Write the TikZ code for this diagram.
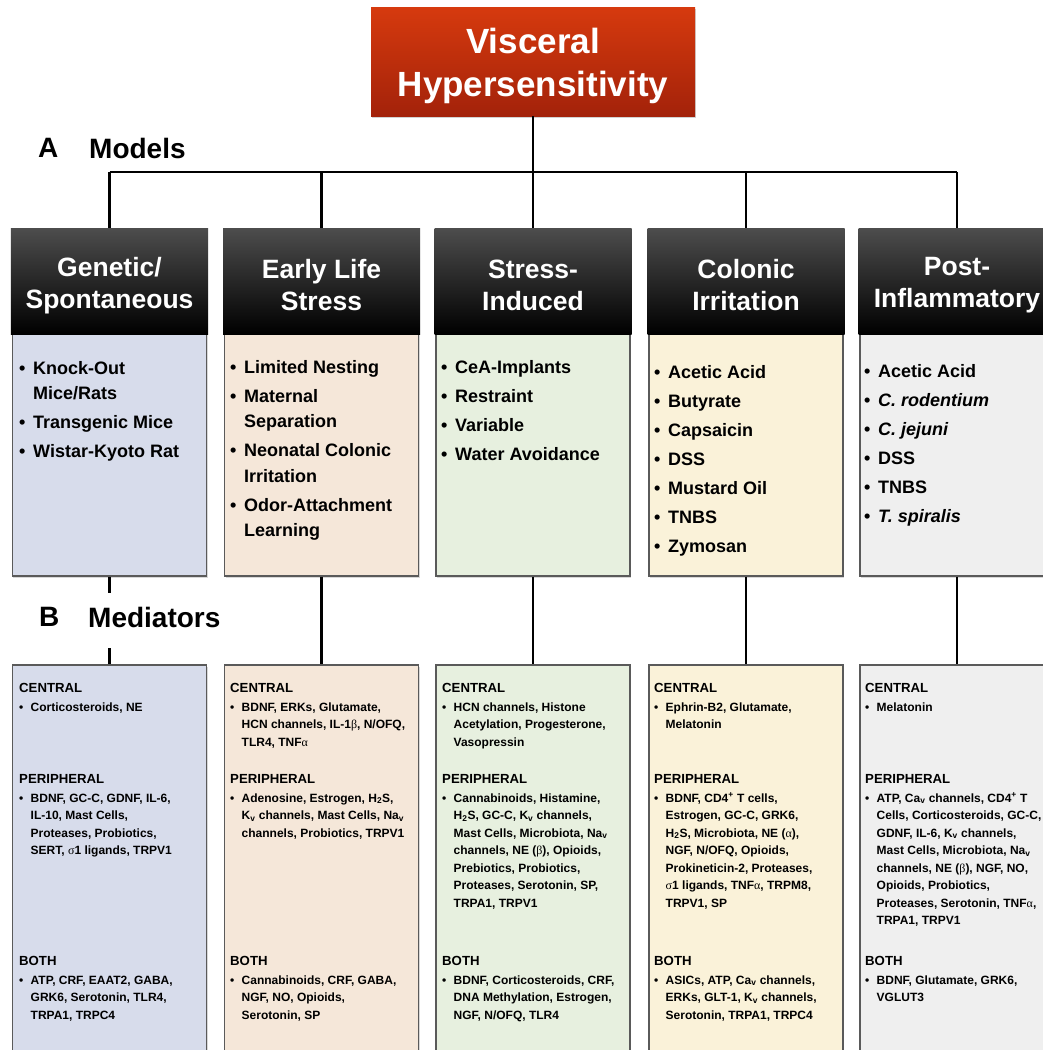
\documentclass[tikz,border=0pt]{standalone}
\usepackage{fontspec}
\setmainfont{Liberation Sans}
\newfontfamily\gk{Liberation Serif}
\usetikzlibrary{shadows}
\definecolor{cA}{HTML}{D7DCEB}
\definecolor{cB}{HTML}{F5E7D9}
\definecolor{cC}{HTML}{E7F0DF}
\definecolor{cD}{HTML}{FAF2D9}
\definecolor{cE}{HTML}{EFEFEF}
\definecolor{bord}{HTML}{5A5A5A}
\definecolor{hdtop}{HTML}{4D4D4D}
\definecolor{rtop}{HTML}{D63A0E}
\definecolor{rbot}{HTML}{A3220A}
\newcommand\bl[2]{\hangindent=#1\hangafter=1\noindent\makebox[#1][l]{•}#2\par}
\newcommand\pb[1]{\parbox[t]{190bp}{\setlength\parskip{3.5bp}#1}}
\newcommand\G[1]{{\gk\mdseries #1}}
\newcommand\sub[1]{\textsubscript{#1}}
\newcommand\sups[1]{\textsuperscript{#1}}
\begin{document}
\begin{tikzpicture}[x=1bp,y=-1bp,
  conn/.style={line width=2.4bp,black},
  ttl/.style={minimum width=324bp,minimum height=109bp,top color=rtop,bottom color=rbot,
     drop shadow={shadow xshift=1bp,shadow yshift=-2bp,opacity=.35}},
  ttltxt/.style={text=white,align=center,inner sep=0pt,font=\bfseries\fontsize{35bp}{43bp}\selectfont},
  hdr/.style={minimum width=197bp,minimum height=106bp,top color=hdtop,bottom color=black},
  hdrtxt/.style={text=white,align=center,inner sep=0pt,font=\bfseries\fontsize{26.5bp}{32bp}\selectfont},
  mbox/.style={draw=bord,line width=1.3bp,minimum width=194bp,
     drop shadow={shadow xshift=1bp,shadow yshift=-1.5bp,opacity=.3}},
  modlist/.style={anchor=base west,inner sep=0pt,font=\bfseries\fontsize{18bp}{25.5bp}\selectfont},
  medlist/.style={anchor=base west,inner sep=0pt,font=\bfseries\fontsize{12bp}{17.5bp}\selectfont},
  sec/.style={anchor=base west,inner sep=0pt,font=\bfseries\fontsize{13.2bp}{16bp}\selectfont},
  lab/.style={anchor=west,inner sep=0pt,font=\bfseries\fontsize{28bp}{32bp}\selectfont}
]
\useasboundingbox (0,0) rectangle (1043,1050);
\clip (0,0) rectangle (1043,1050);
\fill[white] (0,0) rectangle (1043,1050);

% title
\node[ttl] (title) at (533,61.5) {};
\node[ttltxt] (titletxt) at ([yshift=-4bp]title.center) {Visceral\\Hypersensitivity};

% labels
\node[lab] (labA) at (38,148) {A};
\node[lab] (labModels) at (89,148) {Models};
\node[lab] (labB) at (39,617) {B};
\node[lab,minimum height=55bp] (labMed) at (88,617) {Mediators};

% model boxes
\node[mbox,fill=cA,minimum height=243bp] (m1) at (109.5,454.5) {};
\node[mbox,fill=cB,minimum height=243bp] (m2) at (321.5,454.5) {};
\node[mbox,fill=cC,minimum height=243bp] (m3) at (533,454.5) {};
\node[mbox,fill=cD,minimum height=243bp] (m4) at (746,454.5) {};
\node[mbox,fill=cE,minimum height=243bp] (m5) at (957,454.5) {};

% mediator boxes
\node[mbox,fill=cA,minimum height=420bp] (d1) at (109.5,875) {};
\node[mbox,fill=cB,minimum height=420bp] (d2) at (321.5,875) {};
\node[mbox,fill=cC,minimum height=420bp] (d3) at (533,875) {};
\node[mbox,fill=cD,minimum height=420bp] (d4) at (746,875) {};
\node[mbox,fill=cE,minimum height=420bp] (d5) at (957,875) {};

% header boxes
\node[hdr] (h1) at (109.5,281) {};
\node[hdr] (h2) at (321.5,281) {};
\node[hdr] (h3) at (533,281) {};
\node[hdr] (h4) at (746,281) {};
\node[hdr] (h5) at (957,281) {};
\node[hdrtxt] (h1t) at ([yshift=-4.5bp]h1.center) {Genetic/\\Spontaneous};
\node[hdrtxt] (h2t) at ([yshift=-4.5bp]h2.center) {Early Life\\Stress};
\node[hdrtxt] (h3t) at ([yshift=-4.5bp]h3.center) {Stress-\\Induced};
\node[hdrtxt] (h4t) at ([yshift=-4.5bp]h4.center) {Colonic\\Irritation};
\node[hdrtxt] (h5t) at ([yshift=-4.5bp]h5.center) {Post-\\Inflammatory};

% connectors
\coordinate (bus) at (0,172);
\draw[conn] (title.south) -- (title.south |- bus);
\draw[conn] (h1.north |- bus) -- (h5.north |- bus);
\foreach \i in {1,...,5} \draw[conn] (h\i.north) -- (h\i.north |- bus);
\draw[conn] (m1.south) -- ([yshift=-3.5bp]m1.south |- labMed.north);
\draw[conn] ([yshift=-3.5bp]m1.south |- labMed.south) -- (d1.north);
\foreach \i in {2,...,5} \draw[conn] (m\i.south) -- (d\i.north);

% model lists
\node[modlist] (l1) at (19,374) {\pb{\bl{14bp}{Knock-Out\\Mice/Rats}\bl{14bp}{Transgenic Mice}\bl{14bp}{Wistar-Kyoto Rat}}};
\node[modlist] (l2) at (230,373) {\pb{\bl{14bp}{Limited Nesting}\bl{14bp}{Maternal\\Separation}\bl{14bp}{Neonatal Colonic\\Irritation}\bl{14bp}{Odor-Attachment\\Learning}}};
\node[modlist] (l3) at (441,373) {\pb{\bl{14bp}{CeA-Implants}\bl{14bp}{Restraint}\bl{14bp}{Variable}\bl{14bp}{Water Avoidance}}};
\node[modlist] (l4) at (654,378) {\pb{\bl{14bp}{Acetic Acid}\bl{14bp}{Butyrate}\bl{14bp}{Capsaicin}\bl{14bp}{DSS}\bl{14bp}{Mustard Oil}\bl{14bp}{TNBS}\bl{14bp}{Zymosan}}};
\node[modlist] (l5) at (864,377) {\pb{\bl{14bp}{Acetic Acid}\bl{14bp}{\textit{C. rodentium}}\bl{14bp}{\textit{C. jejuni}}\bl{14bp}{DSS}\bl{14bp}{TNBS}\bl{14bp}{\textit{T. spiralis}}}};

% mediator sections
\foreach \n/\x in {1/19,2/230,3/442,4/654,5/865} {
  \node[sec] (c\n) at (\x,692) {CENTRAL};
  \node[sec] (p\n) at (\x,783) {PERIPHERAL};
  \node[sec] (b\n) at (\x,965) {BOTH};
}
% column 1
\node[medlist] (cl1) at (19,711) {\pb{\bl{11.5bp}{Corticosteroids, NE}}};
\node[medlist] (pl1) at (19,802) {\pb{\bl{11.5bp}{BDNF, GC-C, GDNF, IL-6,\\IL-10, Mast Cells,\\Proteases, Probiotics,\\SERT, \G{σ}1 ligands, TRPV1}}};
\node[medlist] (bl1) at (19,984) {\pb{\bl{11.5bp}{ATP, CRF, EAAT2, GABA,\\GRK6, Serotonin, TLR4,\\TRPA1, TRPC4}}};
% column 2
\node[medlist] (cl2) at (230,711) {\pb{\bl{11.5bp}{BDNF, ERKs, Glutamate,\\HCN channels, IL-1\G{β}, N/OFQ,\\TLR4, TNF\G{α}}}};
\node[medlist] (pl2) at (230,802) {\pb{\bl{11.5bp}{Adenosine, Estrogen, H\sub{2}S,\\K\sub{v} channels, Mast Cells, Na\sub{v}\\channels, Probiotics, TRPV1}}};
\node[medlist] (bl2) at (230,984) {\pb{\bl{11.5bp}{Cannabinoids, CRF, GABA,\\NGF, NO, Opioids,\\Serotonin, SP}}};
% column 3
\node[medlist] (cl3) at (442,711) {\pb{\bl{11.5bp}{HCN channels, Histone\\Acetylation, Progesterone,\\Vasopressin}}};
\node[medlist] (pl3) at (442,802) {\pb{\bl{11.5bp}{Cannabinoids, Histamine,\\H\sub{2}S, GC-C, K\sub{v} channels,\\Mast Cells, Microbiota, Na\sub{v}\\channels, NE (\G{β}), Opioids,\\Prebiotics, Probiotics,\\Proteases, Serotonin, SP,\\TRPA1, TRPV1}}};
\node[medlist] (bl3) at (442,984) {\pb{\bl{11.5bp}{BDNF, Corticosteroids, CRF,\\DNA Methylation, Estrogen,\\NGF, N/OFQ, TLR4}}};
% column 4
\node[medlist] (cl4) at (654,711) {\pb{\bl{11.5bp}{Ephrin-B2, Glutamate,\\Melatonin}}};
\node[medlist] (pl4) at (654,802) {\pb{\bl{11.5bp}{BDNF, CD4\sups{+} T cells,\\Estrogen, GC-C, GRK6,\\H\sub{2}S, Microbiota, NE (\G{α}),\\NGF, N/OFQ, Opioids,\\Prokineticin-2, Proteases,\\\G{σ}1 ligands, TNF\G{α}, TRPM8,\\TRPV1, SP}}};
\node[medlist] (bl4) at (654,984) {\pb{\bl{11.5bp}{ASICs, ATP, Ca\sub{v} channels,\\ERKs, GLT-1, K\sub{v} channels,\\Serotonin, TRPA1, TRPC4}}};
% column 5
\node[medlist] (cl5) at (865,711) {\pb{\bl{11.5bp}{Melatonin}}};
\node[medlist] (pl5) at (865,802) {\pb{\bl{11.5bp}{ATP, Ca\sub{v} channels, CD4\sups{+} T\\Cells, Corticosteroids, GC-C,\\GDNF, IL-6, K\sub{v} channels,\\Mast Cells, Microbiota, Na\sub{v}\\channels, NE (\G{β}), NGF, NO,\\Opioids, Probiotics,\\Proteases, Serotonin, TNF\G{α},\\TRPA1, TRPV1}}};
\node[medlist] (bl5) at (865,984) {\pb{\bl{11.5bp}{BDNF, Glutamate, GRK6,\\VGLUT3}}};
\end{tikzpicture}
\end{document}
